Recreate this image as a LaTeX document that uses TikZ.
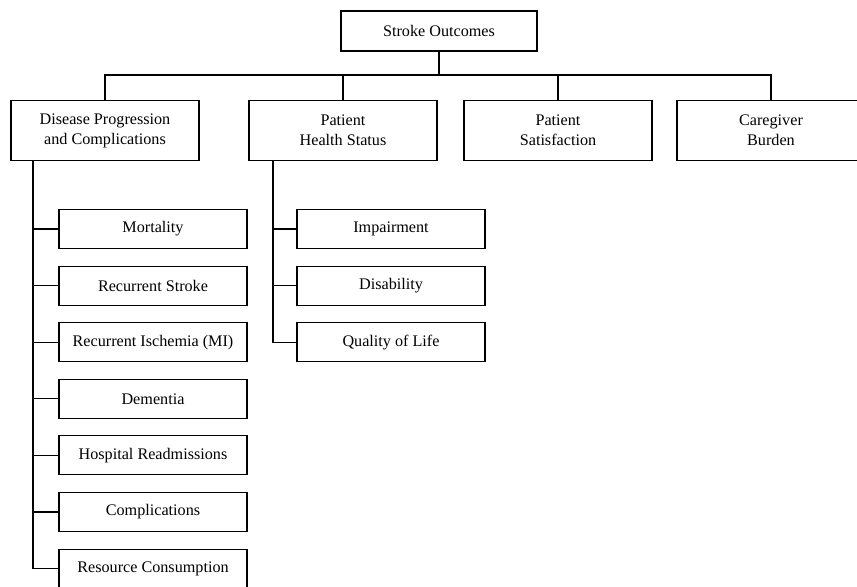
\documentclass[tikz,border=0pt]{standalone}
\usepackage{fontspec}
\setmainfont{Liberation Serif}

\begin{document}
\begin{tikzpicture}[x=0.03cm,y=-0.03cm,
  line width=0.9pt,
  font=\fontsize{13.8}{17}\selectfont,
  topbox/.style={draw, align=center, minimum width=5.64cm, minimum height=1.8cm},
  subbox/.style={draw, align=center, minimum width=5.64cm, minimum height=1.17cm}]
\useasboundingbox (0,0) rectangle (857,587);

\node [draw, minimum width=5.88cm, minimum height=1.2cm] (root) at (439,31) {Stroke Outcomes};

\node [topbox] (disease) at (105,130.5) {Disease Progression\\and Complications};
\node [topbox] (health) at (343,130.5) {Patient\\Health Status};
\node [topbox] (satis) at (558,130.5) {Patient\\Satisfaction};
\node [topbox] (carer) at (771,130.5) {Caregiver\\Burden};

% top level connectors
\coordinate (bus) at (439,75);
\draw (root.south) -- (bus);
\draw (disease.north) |- (bus) -| (carer.north);
\draw (health.north) -- (health.north |- bus);
\draw (satis.north) -- (satis.north |- bus);

\node [subbox] (mort) at (153,229) {Mortality};
\node [subbox] (restroke) at (153,285.6) {Recurrent Stroke};
\node [subbox] (resisch) at (153,342.2) {Recurrent Ischemia (MI)};
\node [subbox] (dement) at (153,398.8) {Dementia};
\node [subbox] (readm) at (153,455.4) {Hospital Readmissions};
\node [subbox] (compl) at (153,512) {Complications};
\node [subbox] (resource) at (153,568.6) {Resource Consumption};

\node [subbox] (impair) at (391,229) {Impairment};
\node [subbox] (disab) at (391,285.6) {Disability};
\node [subbox] (qol) at (391,342.2) {Quality of Life};

% left spine
\coordinate (dspine) at (33,161);
\draw (dspine) |- (resource.west);
\draw (dspine) |- (mort.west);
\draw (dspine) |- (restroke.west);
\draw (dspine) |- (resisch.west);
\draw (dspine) |- (dement.west);
\draw (dspine) |- (readm.west);
\draw (dspine) |- (compl.west);

% right spine
\coordinate (hspine) at (273,161);
\draw (hspine) |- (qol.west);
\draw (hspine) |- (impair.west);
\draw (hspine) |- (disab.west);

\end{tikzpicture}
\end{document}
